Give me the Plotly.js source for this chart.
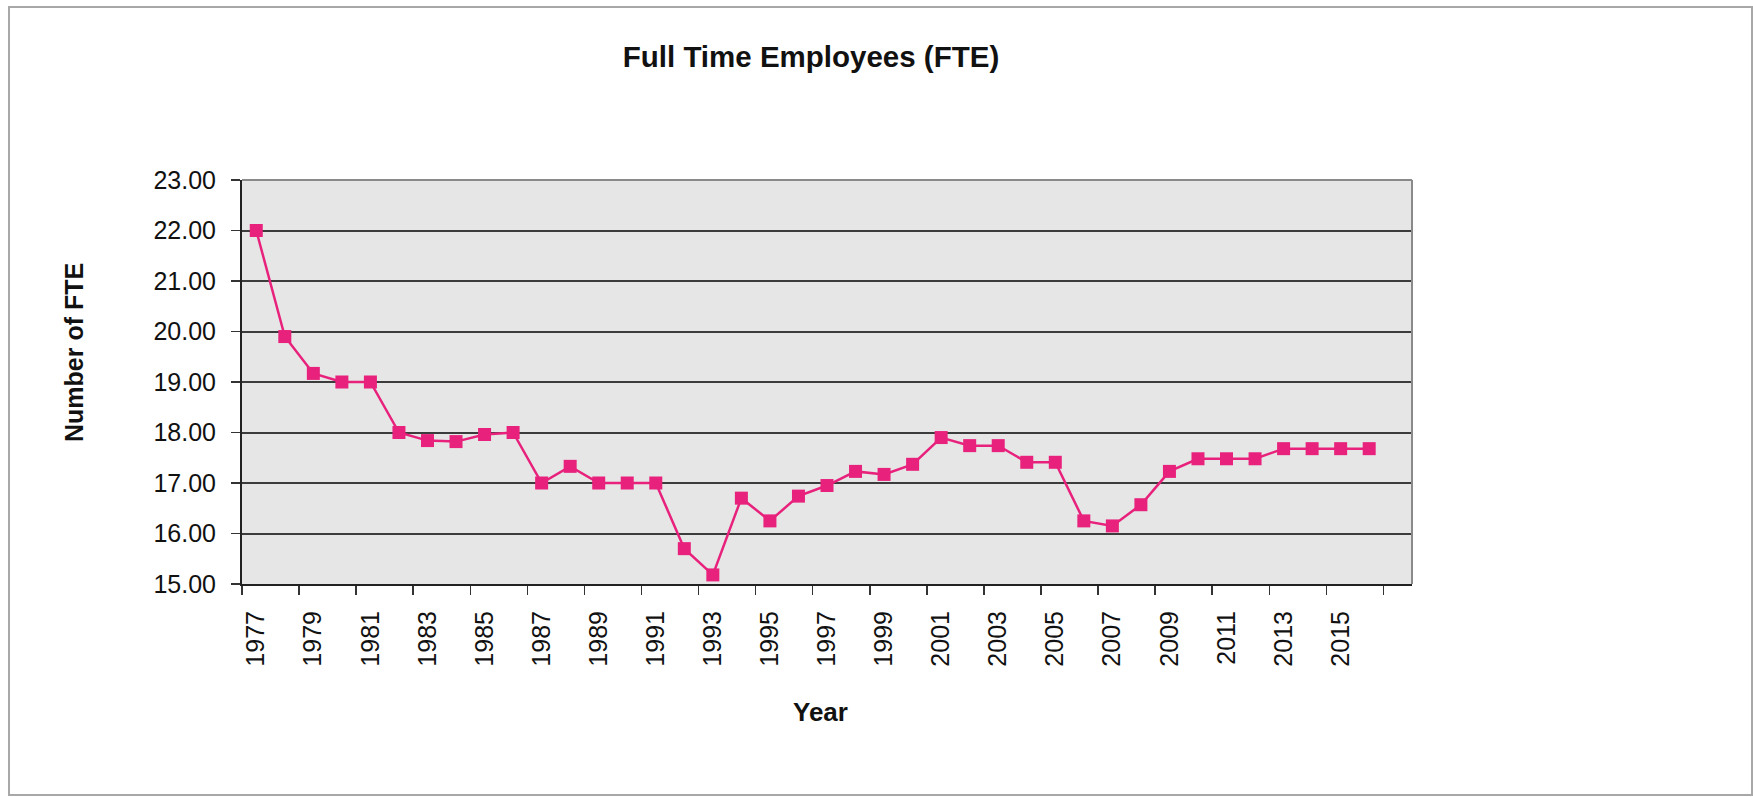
<!DOCTYPE html>
<html>
<head>
<meta charset="utf-8">
<script src="https://cdn.plot.ly/plotly-3.0.1.min.js"></script>
<style>
  html, body { margin: 0; padding: 0; background: #ffffff; }
  #wrap { position: relative; width: 1753px; height: 797px; overflow: hidden; }
  #chart { position: absolute; left: 0; top: 0; width: 1753px; height: 797px; }
  #frame { position: absolute; left: 8px; top: 6px; width: 1741px; height: 786px;
           border: 2px solid #a8a8a8; pointer-events: none; }
</style>
</head>
<body>
<div id="wrap">
  <div id="chart"></div>
  <div id="frame"></div>
</div>
<script>
// ---- data ----
const years = [1977, 1978, 1979, 1980, 1981, 1982, 1983, 1984, 1985, 1986,
               1987, 1988, 1989, 1990, 1991, 1992, 1993, 1994, 1995, 1996,
               1997, 1998, 1999, 2000, 2001, 2002, 2003, 2004, 2005, 2006,
               2007, 2008, 2009, 2010, 2011, 2012, 2013, 2014, 2015, 2016];
const fte = [22.00, 19.90, 19.17, 19.00, 19.00, 18.00, 17.84, 17.82, 17.96, 18.00,
             17.00, 17.33, 17.00, 17.00, 17.00, 15.70, 15.18, 16.70, 16.25, 16.74,
             16.95, 17.23, 17.17, 17.37, 17.90, 17.74, 17.74, 17.41, 17.41, 16.25,
             16.15, 16.57, 17.23, 17.48, 17.48, 17.48, 17.68, 17.68, 17.68, 17.68];
const yTicks = [15, 16, 17, 18, 19, 20, 21, 22, 23];
const xLabelYears = years.filter((y, i) => i % 2 === 0);   // 1977, 1979, ... 2015
const chartTitle = 'Full Time Employees (FTE)';
const xTitle = 'Year';
const yTitle = 'Number of FTE';

// ---- chart ----
const font = 'Liberation Sans, Arial, sans-serif';
const pink = '#e8217c';
const W = 1753, H = 797;
const L = 242, R = 1412, T = 180, B = 584;

const trace = {
  x: years, y: fte, type: 'scatter', mode: 'lines+markers',
  line: { color: pink, width: 2.5 },
  marker: { symbol: 'square', size: 13, color: pink },
  hoverinfo: 'x+y', showlegend: false
};

const layout = {
  width: W, height: H,
  margin: { l: L, r: W - R, t: T, b: H - B, pad: 0 },
  paper_bgcolor: '#ffffff',
  plot_bgcolor: '#e6e6e6',
  font: { family: font, color: '#111111' },
  title: {
    text: chartTitle, xref: 'container', yref: 'container',
    x: 811 / W, xanchor: 'center', y: 1 - 57 / H, yanchor: 'middle',
    font: { family: font, size: 29.5, weight: 'bold', color: '#111111' }
  },
  xaxis: {
    range: [years[0] - 0.5, years[years.length - 1] + 1.5],
    tickmode: 'array', tickvals: xLabelYears, ticktext: xLabelYears.map(String),
    tickangle: -90, ticks: '', tickfont: { family: font, size: 25, color: '#111111' },
    showgrid: false, zeroline: false,
    showline: true, linecolor: '#222222', linewidth: 2,
    minor: { tickmode: 'linear', tick0: years[0] - 0.5, dtick: 2, ticks: 'outside',
             ticklen: 9, tickwidth: 1.5, tickcolor: '#333333', showgrid: false },
    ticklabelstandoff: 15,
    fixedrange: true
  },
  yaxis: {
    range: [yTicks[0], yTicks[yTicks.length - 1]],
    tickmode: 'array', tickvals: yTicks, tickformat: '.2f',
    ticks: 'outside', ticklen: 9, tickwidth: 1.5, tickcolor: '#333333',
    tickfont: { family: font, size: 25, color: '#111111' },
    ticklabelstandoff: 10,
    showgrid: true, gridcolor: '#3c3c3c', gridwidth: 2,
    zeroline: false, showline: true, linecolor: '#222222', linewidth: 2,
    fixedrange: true
  },
  shapes: [
    { type: 'line', xref: 'paper', yref: 'paper', x0: 0, x1: 1, y0: 1, y1: 1,
      line: { color: '#8a8a8a', width: 2 } },
    { type: 'line', xref: 'paper', yref: 'paper', x0: 1, x1: 1, y0: 0, y1: 1,
      line: { color: '#8a8a8a', width: 2 } }
  ],
  annotations: [
    { text: yTitle, xref: 'paper', yref: 'paper',
      x: (74 - L) / (R - L), y: (B - 353) / (B - T),
      xanchor: 'center', yanchor: 'middle', textangle: -90, showarrow: false,
      font: { family: font, size: 25, weight: 'bold', color: '#111111' } },
    { text: xTitle, xref: 'paper', yref: 'paper',
      x: (820 - L) / (R - L), y: (B - 712) / (B - T),
      xanchor: 'center', yanchor: 'middle', showarrow: false,
      font: { family: font, size: 26, weight: 'bold', color: '#111111' } }
  ]
};

Plotly.newPlot('chart', [trace], layout, { displayModeBar: false, staticPlot: true });
</script>
</body>
</html>
